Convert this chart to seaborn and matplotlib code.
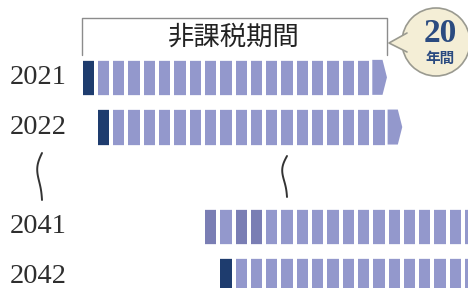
import numpy as np
import pandas as pd
import seaborn as sns
import matplotlib.pyplot as plt
from matplotlib.colors import ListedColormap
from matplotlib.patches import Polygon, Circle

# rows of the chart (blank row = the skipped years)
row_labels = ["2021", "2022", "", "2041", "2042"]
start_cols = [0, 1, None, 8, 9]
period_years = 20
n_cols = 27
# status codes: 1 = purchase year, 2 = tax free year, 3 = shaded year
lead_2041 = [3, 2, 3, 3]

dark = "#1e3c6e"
light = "#9398cc"
medium = "#7a7eb4"

sns.set_style("white")
plt.rcParams["font.family"] = ["Noto Sans CJK JP", "DejaVu Sans"]

grid = np.full((len(row_labels), n_cols), np.nan)
arrow_cells = []
for r, s in enumerate(start_cols):
    if s is None:
        continue
    end = min(s + period_years, n_cols)
    grid[r, s:end] = 2
    grid[r, s] = 1
    if s + period_years <= n_cols:
        # last year drawn as an arrow head
        grid[r, s + period_years - 1] = np.nan
        arrow_cells.append((r, s + period_years - 1))
r41 = row_labels.index("2041")
grid[r41, start_cols[r41]:start_cols[r41] + len(lead_2041)] = lead_2041

heat_df = pd.DataFrame(grid, index=row_labels)

fig = plt.figure(figsize=(4.68, 2.88), dpi=100)
ax = fig.add_axes([80.5 / 468, -13 / 288, 413.1 / 468, 248.5 / 288])
sns.heatmap(heat_df, cmap=ListedColormap([dark, light, medium]), vmin=0.5, vmax=3.5,
            cbar=False, linewidths=1.6, linecolor="white", ax=ax,
            xticklabels=False, yticklabels=row_labels)

# wider gaps between the rows
for y in range(len(row_labels) + 1):
    ax.axhline(y, color="white", lw=10.6, zorder=3)

gx, gy = 0.072, 0.148
for r, c in arrow_cells:
    ax.add_patch(Polygon([(c + gx, r + gy), (c + 0.74, r + gy), (c + 1.03, r + 0.5),
                          (c + 0.74, r + 1 - gy), (c + gx, r + 1 - gy)],
                         closed=True, facecolor=light, edgecolor="none", zorder=4))

ax.set_yticklabels(row_labels, rotation=0, fontfamily="Liberation Serif",
                   fontsize=20.5, color="#2e2e2e")
ax.tick_params(axis="y", length=0, pad=9.7)
ax.set_xlabel("")
ax.set_ylabel("")

# bracket over the tax free period of the first row
s0 = start_cols[0]
bx0, bx1 = s0 + 0.1, s0 + period_years
ax.plot([bx0, bx0, bx1, bx1], [0.05, -0.694, -0.694, 0.05], color="#8c8c8c",
        lw=1.0, clip_on=False, zorder=5)
ax.text((bx0 + bx1) / 2, -0.31, "非課税期間", ha="center", va="center",
        fontsize=19, color="#222222", clip_on=False, zorder=5)

# overlay in pixel units for the bubble and the break marks
ov = fig.add_axes([0, 0, 1, 1], zorder=10)
ov.set_xlim(0, 468)
ov.set_ylim(288, 0)
ov.axis("off")
ov.patch.set_alpha(0)

ov.add_patch(Circle((436, 42), 34, facecolor="#f4eed6", edgecolor="#9a9a90", lw=1.2))
ov.add_patch(Polygon([(408, 32), (389, 43), (408, 53)], closed=True,
                     facecolor="#f4eed6", edgecolor="none"))
ov.plot([407, 389, 407], [33, 43, 52], color="#9a9a90", lw=1.2)
ov.text(440, 34, "20", ha="center", va="center", fontsize=24, fontweight="bold",
        fontfamily="Liberation Serif", color="#2b4b80")
ov.text(440, 58, "年間", ha="center", va="center", fontsize=10.5, fontweight="bold",
        color="#2b4b80")

t = np.linspace(0, 1, 60)
for cx, y0, h in [(42, 153, 47), (287, 156, 41)]:
    ov.plot(cx - 4 * np.sin(np.pi * t) - 1.5 * np.sin(2 * np.pi * t), y0 + h * t,
            color="#333333", lw=1.4)

fig.savefig("out.png", dpi=100)
